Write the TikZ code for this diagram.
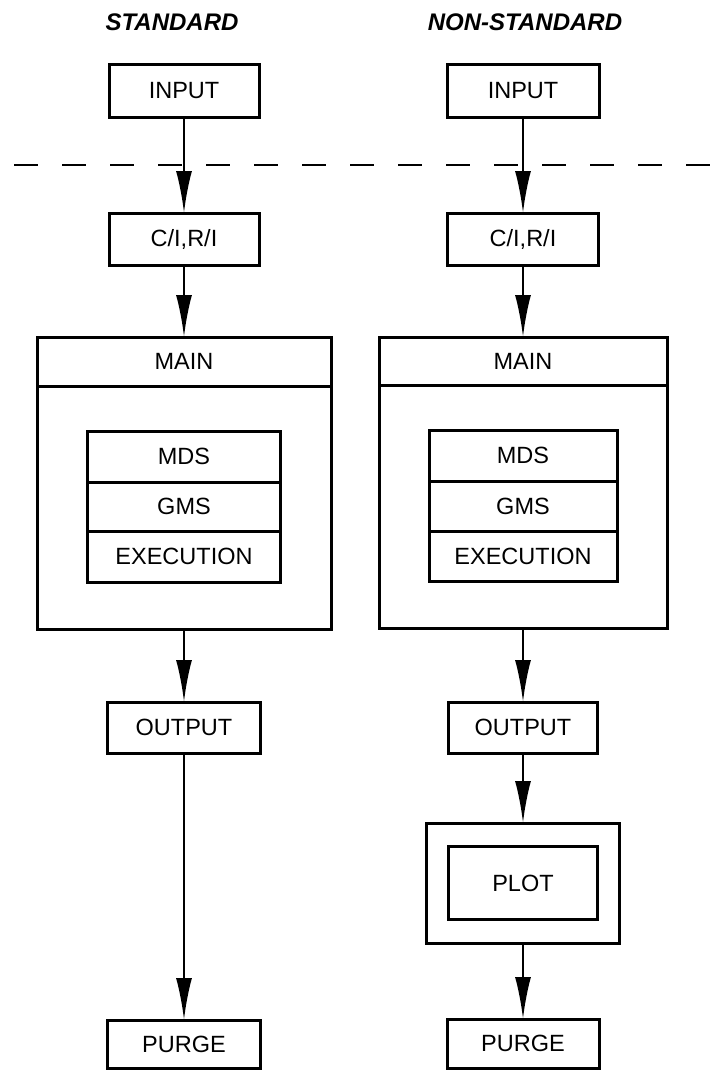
\documentclass[tikz,border=0pt]{standalone}
\usepackage{fontspec}
\setsansfont{Liberation Sans}
\usepackage{tikz}
\usetikzlibrary{arrows.meta,positioning}

\begin{document}
\begin{tikzpicture}[
      x=1pt, y=-1pt,
      box/.style={draw, line width=3pt, outer sep=0pt, inner sep=0pt, align=center, font=\sffamily\fontsize{23.5}{27}\selectfont},
      title/.style={font=\sffamily\bfseries\itshape\fontsize{24}{28}\selectfont},
      arr/.style={-{Latex[length=42pt,width=16pt]}, line width=2.5pt},
      cut/.style={line width=2.8pt, dash pattern=on 24pt off 24pt},
    ]
    \useasboundingbox (0,0) rectangle (721,1077);
    \node[title] (titleL) at (172,22) {STANDARD};
    \node[title] (titleR) at (525,22) {NON-STANDARD};
    \coordinate (cutW) at (14,165);
    \coordinate (cutE) at (721,165);
    \draw[cut] (cutW) -- (cutE);

    \node[box, minimum width=150pt, minimum height=53pt] (inL) at (184,90.5) {INPUT};
    \node[box, minimum width=150pt, minimum height=52pt, below=96pt of inL] (ciL) {C/I,R/I};
    \node[box, minimum width=294pt, minimum height=292pt, below=72pt of ciL] (mainL) {};
    \node[box, minimum width=294pt, minimum height=49pt, anchor=north] (mainLhd) at (mainL.north) {MAIN};
    \node[box, minimum width=193pt, minimum height=51pt, below=45pt of mainLhd] (mdsL) {MDS};
    \node[box, minimum width=193pt, minimum height=49pt, below=0pt of mdsL] (gmsL) {GMS};
    \node[box, minimum width=193pt, minimum height=51pt, below=0pt of gmsL] (exeL) {EXECUTION};
    \node[box, minimum width=153pt, minimum height=51pt, below=73pt of mainL] (outL) {OUTPUT};
    \node[box, minimum width=153pt, minimum height=48pt, below=267pt of outL] (purL) {PURGE};

    \node[box, minimum width=152pt, minimum height=53pt] (inR) at (523,90.5) {INPUT};
    \node[box, minimum width=151pt, minimum height=52pt, below=96pt of inR] (ciR) {C/I,R/I};
    \node[box, minimum width=288pt, minimum height=291pt, below=72pt of ciR] (mainR) {};
    \node[box, minimum width=288pt, minimum height=48pt, anchor=north] (mainRhd) at (mainR.north) {MAIN};
    \node[box, minimum width=188pt, minimum height=51pt, below=45pt of mainRhd] (mdsR) {MDS};
    \node[box, minimum width=188pt, minimum height=50pt, below=0pt of mdsR] (gmsR) {GMS};
    \node[box, minimum width=188pt, minimum height=50pt, below=0pt of gmsR] (exeR) {EXECUTION};
    \node[box, minimum width=149pt, minimum height=51pt, below=74pt of mainR] (outR) {OUTPUT};
    \node[box, minimum width=193pt, minimum height=120pt, below=70pt of outR] (plotR) {};
    \node[box, minimum width=149pt, minimum height=73pt] (plotRin) at (plotR.center) {PLOT};
    \node[box, minimum width=152pt, minimum height=49pt, below=76pt of plotR] (purR) {PURGE};

    \draw[arr] (inL) -- (ciL);
    \draw[arr] (ciL) -- (mainL);
    \draw[arr] (mainL) -- (outL);
    \draw[arr] (outL) -- (purL);
    \draw[arr] (inR) -- (ciR);
    \draw[arr] (ciR) -- (mainR);
    \draw[arr] (mainR) -- (outR);
    \draw[arr] (outR) -- (plotR);
    \draw[arr] (plotR) -- (purR);
  \end{tikzpicture}
\end{document}
